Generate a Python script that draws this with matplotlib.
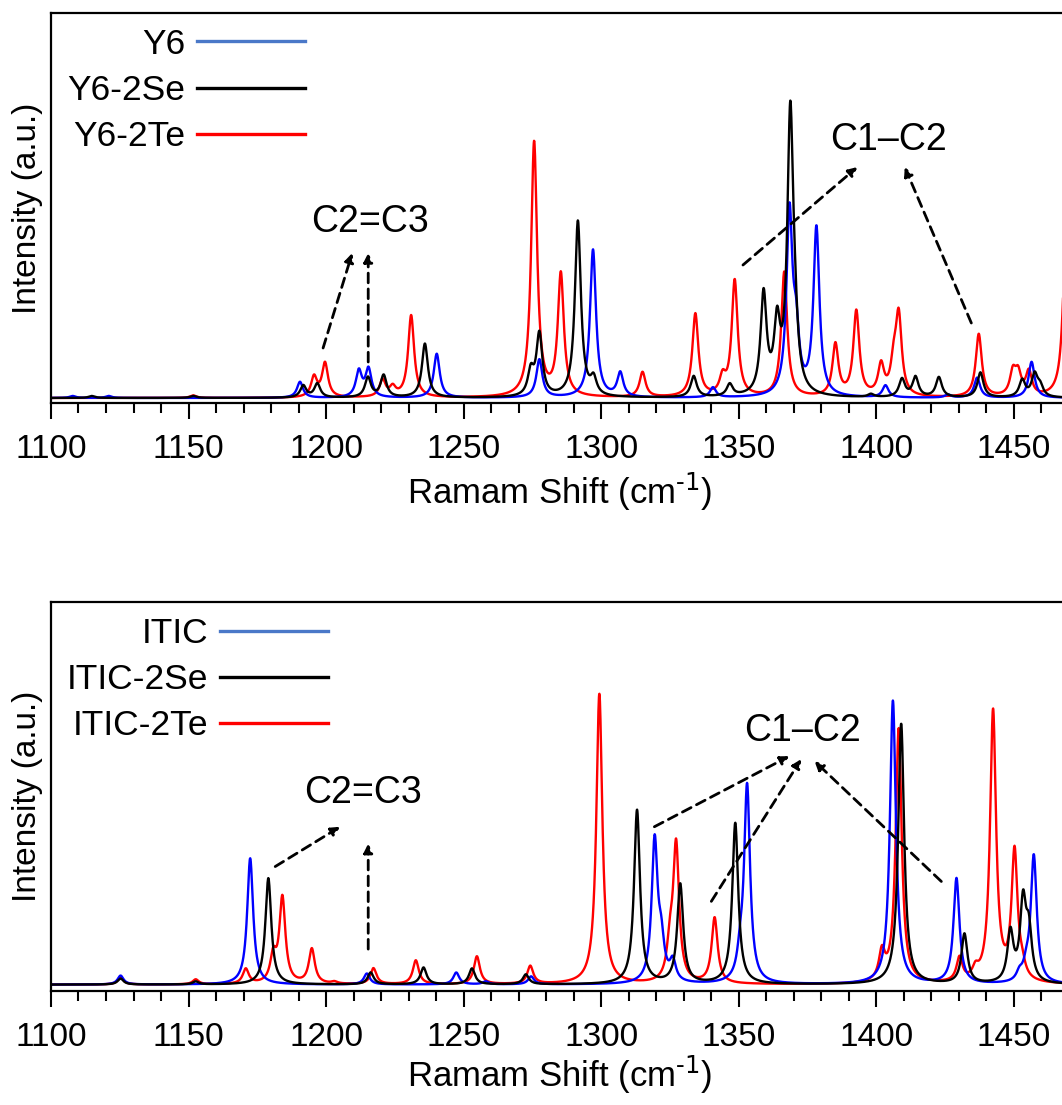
import numpy as np
import matplotlib
matplotlib.use("Agg")
import matplotlib.pyplot as plt
from matplotlib.lines import Line2D
from matplotlib.ticker import MultipleLocator

plt.rcParams['font.family'] = ['Liberation Sans', 'DejaVu Sans']
plt.rcParams['mathtext.default'] = 'regular'

# peak lists: (position cm-1, intensity a.u.)
y6_pos = [1107.9, 1121.0, 1190.5, 1211.9, 1215.4, 1240.2, 1277.5, 1297.0, 1306.9,
          1340.6, 1368.4, 1370.8, 1378.2, 1403.3, 1426.0, 1436.6, 1456.4]
y6_int = [2, 2, 16, 26, 28, 44, 38, 148, 24, 10, 180, 55, 168, 12, 3, 20, 36]

y6se_pos = [1114.8, 1151.7, 1191.7, 1196.8, 1215.2, 1220.9, 1235.9, 1274.4, 1277.5,
            1291.5, 1297.2, 1333.6, 1346.7, 1359.0, 1363.9, 1368.7, 1370.3, 1398.0,
            1409.3, 1414.2, 1422.7, 1437.8, 1453.0, 1457.5, 1459.5]
y6se_int = [2, 2, 12, 14, 20, 22, 54, 24, 62, 176, 16, 21, 12, 100, 65, 275, 40, 3,
            18, 20, 20, 25, 17, 22, 10]

y6te_pos = [1151.7, 1195.6, 1199.6, 1220.5, 1224.2, 1230.9, 1275.6, 1285.3, 1315.0,
            1334.2, 1344.1, 1348.5, 1366.5, 1385.1, 1392.7, 1401.7, 1406.3, 1408.1,
            1437.2, 1449.6, 1451.5, 1455.4, 1469.0]
y6te_int = [2.5, 20, 34, 17, 9, 82, 255, 122, 25, 83, 17, 116, 125, 52, 85, 30, 28,
            78, 63, 23, 21, 24, 180]

itic_pos = [1125.3, 1172.4, 1214.8, 1247.3, 1258.0, 1274.5, 1319.4, 1321.8, 1326.0,
            1350.5, 1353.0, 1406.0, 1429.1, 1452.0, 1454.5, 1457.2]
itic_int = [9, 127, 11, 12, 3, 8, 142, 35, 20, 20, 198, 285, 106, 8, 12, 128]

itse_pos = [1125.3, 1152.6, 1179.0, 1216.2, 1235.4, 1253.0, 1272.6, 1313.0, 1328.7,
            1348.7, 1409.0, 1432.0, 1448.7, 1453.3, 1455.4]
itse_int = [6, 3, 107, 12, 17, 16, 10, 175, 100, 162, 262, 50, 50, 78, 48]

itte_pos = [1125.3, 1152.6, 1170.8, 1180.8, 1184.1, 1194.8, 1203.0, 1217.2, 1232.6,
            1254.8, 1274.2, 1299.3, 1325.0, 1327.2, 1341.2, 1402.0, 1408.1, 1430.2,
            1436.0, 1442.4, 1450.2, 1453.0]
itte_int = [7, 5, 15, 26, 86, 35, 2, 16, 24, 28, 18, 292, 33, 137, 66, 28, 256, 24,
            10, 273, 130, 10]

FWHM = 2.6
x = np.linspace(1100, 1470, 4001)


def spectrum(pos, inten):
    hw = FWHM / 2
    y = np.zeros_like(x)
    for p, h in zip(pos, inten):
        y += h / (1 + ((x - p) / hw) ** 2)
    return y


def dashed_arrow(ax, start, end):
    ax.annotate('', xy=end, xytext=start,
                arrowprops=dict(arrowstyle='-|>', linestyle=(0, (3.5, 2.2)), lw=2,
                                color='black', shrinkA=0, shrinkB=0, mutation_scale=13))


fig = plt.figure(figsize=(10.62, 11.05), dpi=100)
ax1 = fig.add_axes([0.048, 0.6353, 0.9586, 0.3529])
ax2 = fig.add_axes([0.048, 0.1030, 0.9586, 0.3520])

panels = [
    (ax1, [('Y6', y6_pos, y6_int), ('Y6-2Se', y6se_pos, y6se_int), ('Y6-2Te', y6te_pos, y6te_int)]),
    (ax2, [('ITIC', itic_pos, itic_int), ('ITIC-2Se', itse_pos, itse_int), ('ITIC-2Te', itte_pos, itte_int)]),
]
curve_colors = ['#0000ff', 'black', '#ff0000']
legend_colors = ['#4a78c8', 'black', '#ff0000']

for ax, series in panels:
    for i in [2, 0, 1]:
        name, pos, inten = series[i]
        ax.plot(x, spectrum(pos, inten), color=curve_colors[i], lw=1.7)
    handles = [Line2D([], [], color=c, lw=2.4) for c in legend_colors]
    ax.legend(handles, [s[0] for s in series], loc='upper left',
              bbox_to_anchor=(0.0157, 0.962), markerfirst=False, frameon=False,
              handlelength=3.05, handletextpad=0.33, labelspacing=0.37,
              borderpad=0, borderaxespad=0, fontsize=25.5)
    ax.set_xlim(1100, 1470)
    ax.xaxis.set_major_locator(MultipleLocator(50))
    ax.xaxis.set_minor_locator(MultipleLocator(10))
    ax.tick_params(axis='x', which='major', direction='out', length=11.5, width=1.5,
                   labelsize=24, pad=11, top=False)
    ax.tick_params(axis='x', which='minor', direction='out', length=7, width=1.5, top=False)
    ax.set_yticks([])
    for sp in ax.spines.values():
        sp.set_linewidth(1.6)
    ax.set_xlabel('Ramam Shift (cm$^{\\text{-1}}$)', fontsize=25)
    ax.set_ylabel('Intensity (a.u.)', fontsize=24)
    ax.yaxis.set_label_coords(-0.008, 0.5)

ax1.xaxis.set_label_coords(0.5, -0.172)
# lower label sits right under its tick labels so it stays inside the figure
ax2.xaxis.labelpad = 0

ax1.set_ylim(-5, 385)
ax2.set_ylim(-6.6, 384.4)

# top panel annotations
ax1.text(1216, 176, 'C2=C3', fontsize=27, ha='center', va='center')
dashed_arrow(ax1, (1198.9, 50), (1209.5, 145))
dashed_arrow(ax1, (1215.3, 36), (1215.3, 145))
ax1.text(1404.4, 258, 'C1\u2013C2', fontsize=27, ha='center', va='center')
dashed_arrow(ax1, (1351.5, 133), (1393.1, 231))
dashed_arrow(ax1, (1434.5, 75), (1410.3, 231))

# bottom panel annotations
ax2.text(1213.5, 192.7, 'C2=C3', fontsize=27, ha='center', va='center')
dashed_arrow(ax2, (1181.5, 118.7), (1205.1, 158.7))
dashed_arrow(ax2, (1215.3, 35.7), (1215.3, 141.7))
ax2.text(1373.1, 254.7, 'C1\u2013C2', fontsize=27, ha='center', va='center')
dashed_arrow(ax2, (1319.3, 158.7), (1368.4, 229.7))
dashed_arrow(ax2, (1340.0, 83.7), (1372.7, 226.7))
dashed_arrow(ax2, (1423.6, 103.7), (1377.5, 224.7))

fig.savefig('out.png', dpi=100)
